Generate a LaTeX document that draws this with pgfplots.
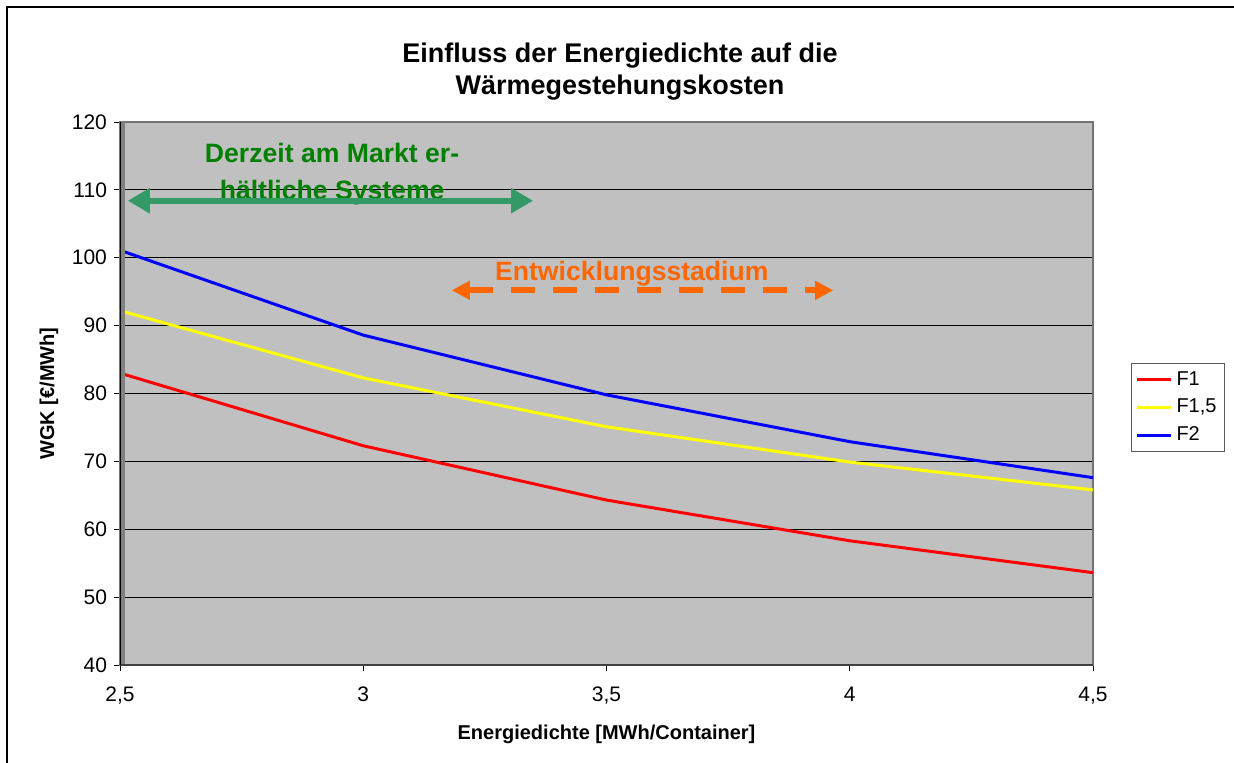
\documentclass[border=0pt]{standalone}
\usepackage{pgfplots}
\pgfplotsset{compat=1.18}
\usepackage{fontspec}
\setmainfont{Liberation Sans}
\usetikzlibrary{arrows.meta}

\definecolor{plotgray}{HTML}{C0C0C0}
\definecolor{exgreen}{HTML}{339966}
\definecolor{txtgreen}{HTML}{008000}
\definecolor{exorange}{HTML}{FF6600}
\definecolor{exyellow}{HTML}{FFFF00}

\begin{document}
\begin{tikzpicture}
\useasboundingbox (0,0) rectangle (617pt,381.5pt);
\draw[line width=1.2pt] (3.5pt,0) -- (3.5pt,378pt) -- (617pt,378pt);

\node[font=\bfseries\fontsize{13.5}{16}\selectfont, align=center] at (310pt,345.5pt)
  {Einfluss der Energiedichte auf die\\Wärmegestehungskosten};

\begin{axis}[
  at={(60pt,49pt)}, anchor=south west,
  width=486.5pt, height=271.5pt, scale only axis,
  xmin=2.5, xmax=4.5, ymin=40, ymax=120,
  xtick={2.5,3,3.5,4,4.5},
  ytick={40,50,...,120},
  /pgf/number format/use comma,
  /pgf/number format/assume math mode=true,
  tick label style={font=\fontsize{10.5}{12}\selectfont},
  tick pos=left,
  tick align=outside,
  major tick length=3pt,
  tick style={black, thin},
  xticklabel style={yshift=-4.5pt},
  axis background/.style={fill=plotgray},
  axis line style={draw=gray!90!black, line width=0.6pt},
  ymajorgrids,
  major grid style={black, line width=0.4pt},
  xlabel={\bfseries Energiedichte [MWh/Container]},
  ylabel={\bfseries WGK [€/MWh]},
  label style={font=\fontsize{10}{12}\selectfont},
  xlabel style={yshift=-3.5pt},
  ylabel style={yshift=0pt},
  legend style={at={(1.039,0.474)}, anchor=west, draw=gray!70!black,
    font=\fontsize{10}{12}\selectfont, inner sep=2pt, row sep=1.5pt,
    legend cell align=left},
  legend image post style={line width=1.5pt},
  every axis plot/.append style={line width=1.5pt},
  clip=false
]
\addplot[red, line join=round] coordinates {(2.5,83.0) (3,72.3) (3.5,64.3) (4,58.3) (4.5,53.6)};
\addplot[exyellow, line join=round] coordinates {(2.5,92.2) (3,82.3) (3.5,75.1) (4,69.9) (4.5,65.8)};
\addplot[blue, line join=round] coordinates {(2.5,101.1) (3,88.6) (3.5,79.8) (4,72.9) (4.5,67.6)};
\legend{F1,F1{,}5,F2}

\draw[gray, line width=2pt] ([xshift=1.5pt]axis cs:2.5,40) -- ([xshift=1.5pt]axis cs:2.5,120);
\draw[black!75, line width=0.9pt] (axis cs:2.5,40) -- (axis cs:4.5,40);
\draw[black, line width=0.5pt] (axis cs:2.5,40) -- (axis cs:2.5,120);

\node[txtgreen, font=\bfseries\fontsize{13.3}{15}\selectfont] at (axis cs:2.936,115.4) {Derzeit am Markt er-};
\node[txtgreen, font=\bfseries\fontsize{13.3}{15}\selectfont] at (axis cs:2.936,109.6) {hältliche Systeme};
\draw[exgreen, line width=3pt, {Triangle[width=12pt,length=11pt]}-{Triangle[width=12pt,length=11pt]}]
  (axis cs:2.516,108.4) -- (axis cs:3.349,108.4);

\node[exorange, font=\bfseries\fontsize{13.3}{15}\selectfont] at (axis cs:3.552,97.7) {Entwicklungsstadium};
\draw[exorange, line width=3pt, dash pattern=on 12pt off 9pt, {Triangle[width=9pt,length=9pt]}-{Triangle[width=9pt,length=9pt]}]
  (axis cs:3.182,95.2) -- (axis cs:3.966,95.2);
\end{axis}
\end{tikzpicture}
\end{document}
